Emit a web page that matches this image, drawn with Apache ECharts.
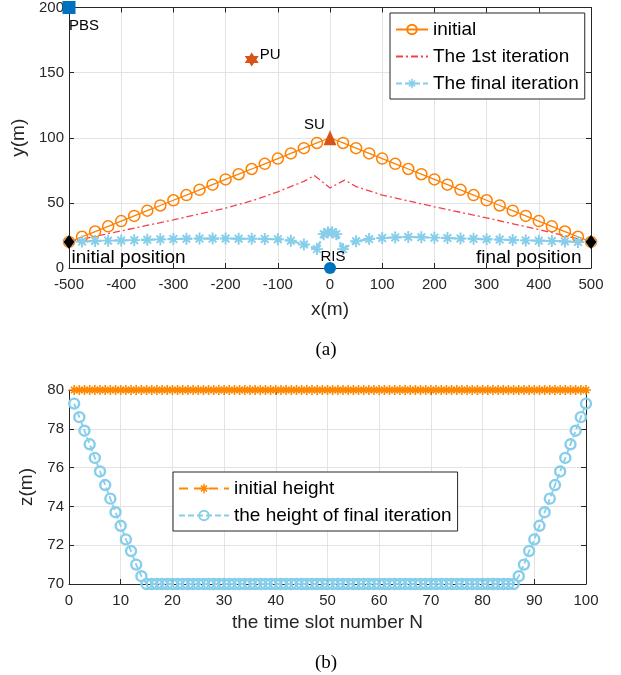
<!DOCTYPE html>
<html>
<head>
<meta charset="utf-8">
<script src="https://cdn.jsdelivr.net/npm/echarts@6/dist/echarts.min.js"></script>
<style>
  html, body { margin: 0; padding: 0; background: #fff; }
  #main { width: 621px; height: 675px; }
</style>
</head>
<body>
<div id="main"></div>
<script>
// ---- (a) trajectories in the x-y plane ----
const initX = [-500,-475,-450,-425,-400,-375,-350,-325,-300,-275,-250,-225,-200,-175,-150,-125,-100,-75,-50,-25,
  0,25,50,75,100,125,150,175,200,225,250,275,300,325,350,375,400,425,450,475,500];
const initY = [20,24,28,32,36,40,44,48,52,56,60,64,68,72,76,80,84,88,92,96,
  100,96,92,88,84,80,76,72,68,64,60,56,52,48,44,40,36,32,28,24,20];

const firstX = [-500,-400,-300,-200,-150,-100,-50,-30,0,28,50,100,200,300,400,500];
const firstY = [20,28.5,37,46,51.5,58.5,66.5,71,61.5,67.5,62.5,56,47,38.5,29.5,20];

const finalX = [-500,-475,-450,-425,-400,-375,-350,-325,-300,-275,-250,-225,-200,-175,-150,-125,-100,-75,-50,-25,
  -12,-4,4,12,25,50,75,100,125,150,175,200,225,250,275,300,325,350,375,400,425,450,475,500];
const finalY = [20,20.3,20.8,21,21.2,21.4,21.7,22,22.2,22.4,22.6,22.6,22.6,22.5,22.4,22.3,22.1,21,18,14.5,
  26,27.5,27.5,26,14.5,20.5,22.2,23,23.5,23.8,23.6,23.3,23,22.7,22.4,22.1,21.8,21.5,21.2,21,20.7,20.4,20,20];

// nodes: [x, y]
const pbsPos = [-500, 200];
const puPos = [-150, 160];
const suPos = [0, 100];
const risPos = [0, 0];
const startPos = [-500, 20];
const endPos = [500, 20];

// ---- (b) height per time slot ----
const slots = [1,2,3,4,5,6,7,8,9,10,11,12,13,14,15,16,17,18,19,20,21,22,23,24,25,26,27,28,29,30,
  31,32,33,34,35,36,37,38,39,40,41,42,43,44,45,46,47,48,49,50,51,52,53,54,55,56,57,58,59,60,
  61,62,63,64,65,66,67,68,69,70,71,72,73,74,75,76,77,78,79,80,81,82,83,84,85,86,87,88,89,90,
  91,92,93,94,95,96,97,98,99,100];
const initHeight = [80,80,80,80,80,80,80,80,80,80,80,80,80,80,80,80,80,80,80,80,80,80,80,80,80,
  80,80,80,80,80,80,80,80,80,80,80,80,80,80,80,80,80,80,80,80,80,80,80,80,80,
  80,80,80,80,80,80,80,80,80,80,80,80,80,80,80,80,80,80,80,80,80,80,80,80,80,
  80,80,80,80,80,80,80,80,80,80,80,80,80,80,80,80,80,80,80,80,80,80,80,80,80];
const finalHeight = [79.3,78.6,77.9,77.2,76.5,75.8,75.1,74.4,73.7,73.0,72.3,71.7,71.0,70.4,
  70,70,70,70,70,70,70,70,70,70,70,70,
  70,70,70,70,70,70,70,70,70,70,70,70,
  70,70,70,70,70,70,70,70,70,70,70,70,
  70,70,70,70,70,70,70,70,70,70,70,70,
  70,70,70,70,70,70,70,70,70,70,70,70,
  70,70,70,70,70,70,70,70,70,70,70,70,
  70.4,71.0,71.7,72.3,73.0,73.7,74.4,75.1,75.8,76.5,77.2,77.9,78.6,79.3];

const zip = (xs, ys) => xs.map((x, i) => [x, ys[i]]);

const ORANGE = '#FF8000';
const RED = '#F5414B';
const SKY = '#87CEEB';
const MBLUE = '#0072BD';
const MRED = '#D95319';
const AX = '#262626';
const FONT = 'Liberation Sans';

const starPath = 'path://M-1.6,-10L1.6,-10L1.6,10L-1.6,10Z M-10,-1.6L10,-1.6L10,1.6L-10,1.6Z ' +
  'M-7.5,-5.2L-5.2,-7.5L7.5,5.2L5.2,7.5Z M5.2,-7.5L7.5,-5.2L-5.2,7.5L-7.5,5.2Z';
const hexPath = 'path://M0,-10L2.885,-5L8.66,-5L5.77,0L8.66,5L2.885,5L0,10L-2.885,5L-8.66,5L-5.77,0L-8.66,-5L-2.885,-5Z';

function xAx(grid, min, max, interval, name, gap) {
  return [{
    gridIndex: grid, type: 'value', min: min, max: max, interval: interval, position: 'bottom',
    name: name, nameLocation: 'middle', nameGap: gap,
    nameTextStyle: { fontSize: 19, color: AX, fontFamily: FONT },
    axisLine: { show: true, onZero: false, lineStyle: { color: AX, width: 1 } },
    axisTick: { show: true, inside: true, length: 5, lineStyle: { color: AX } },
    axisLabel: { fontSize: 15, color: AX, fontFamily: FONT, margin: 9 },
    splitLine: { show: true, lineStyle: { color: '#E3E3E3', width: 1 } }
  }, {
    gridIndex: grid, type: 'value', min: min, max: max, interval: interval, position: 'top',
    axisLine: { show: true, onZero: false, lineStyle: { color: AX, width: 1 } },
    axisTick: { show: true, inside: true, length: 5, lineStyle: { color: AX } },
    axisLabel: { show: false }, splitLine: { show: false }
  }];
}
function yAx(grid, min, max, interval, name, gap) {
  return [{
    gridIndex: grid, type: 'value', min: min, max: max, interval: interval, position: 'left',
    name: name, nameLocation: 'middle', nameGap: gap,
    nameTextStyle: { fontSize: 19, color: AX, fontFamily: FONT },
    axisLine: { show: true, onZero: false, lineStyle: { color: AX, width: 1 } },
    axisTick: { show: true, inside: true, length: 5, lineStyle: { color: AX } },
    axisLabel: { fontSize: 15, color: AX, fontFamily: FONT, margin: 5 },
    splitLine: { show: true, lineStyle: { color: '#E3E3E3', width: 1 } }
  }, {
    gridIndex: grid, type: 'value', min: min, max: max, interval: interval, position: 'right',
    axisLine: { show: true, onZero: false, lineStyle: { color: AX, width: 1 } },
    axisTick: { show: true, inside: true, length: 5, lineStyle: { color: AX } },
    axisLabel: { show: false }, splitLine: { show: false }
  }];
}

function node(name, pos, symbol, size, color, label) {
  return {
    name: name, type: 'scatter', xAxisIndex: 0, yAxisIndex: 0, clip: false, z: 5,
    symbol: symbol, symbolSize: size, itemStyle: { color: color, opacity: 1 },
    label: Object.assign({ show: true, formatter: name, color: '#000', fontFamily: FONT, fontSize: 15 }, label),
    data: [pos]
  };
}

// the SU marker sits on the initial path, so hide that circle
const initData = zip(initX, initY).map(p => (p[0] === suPos[0] && p[1] === suPos[1]) ? { value: p, symbol: 'none' } : p);

const legendText = { fontSize: 19, color: '#000', fontFamily: FONT };
const option = {
  animation: false,
  backgroundColor: '#fff',
  textStyle: { fontFamily: FONT },
  title: [
    { text: '(a)', left: 321, top: 336, textAlign: 'center',
      textStyle: { fontFamily: 'Liberation Serif', fontSize: 19, fontWeight: 'normal', color: '#000' } },
    { text: '(b)', left: 321, top: 649, textAlign: 'center',
      textStyle: { fontFamily: 'Liberation Serif', fontSize: 19, fontWeight: 'normal', color: '#000' } }
  ],
  grid: [
    { left: 69, right: 30, top: 7, height: 261, containLabel: false },
    { left: 69, right: 35, top: 390, height: 194, containLabel: false }
  ],
  xAxis: [].concat(xAx(0, -500, 500, 100, 'x(m)', 32), xAx(1, 0, 100, 10, 'the time slot number N', 29)),
  yAxis: [].concat(yAx(0, 0, 200, 50, 'y(m)', 38), yAx(1, 70, 80, 2, 'z(m)', 23)),
  legend: [{
    data: ['initial',
      { name: 'The 1st iteration', itemStyle: { color: 'rgba(0,0,0,0)', borderColor: 'rgba(0,0,0,0)', borderWidth: 0 } },
      'The final iteration'],
    orient: 'vertical', left: 390, top: 13,
    backgroundColor: '#fff', borderColor: AX, borderWidth: 1, borderRadius: 0,
    padding: [7, 6, 6, 5], itemWidth: 32, itemHeight: 12, itemGap: 8,
    textStyle: legendText
  }, {
    data: ['initial height', 'the height of final iteration'],
    orient: 'vertical', left: 173, top: 472,
    backgroundColor: '#fff', borderColor: AX, borderWidth: 1, borderRadius: 0,
    padding: [7, 6, 6, 5], itemWidth: 50, itemHeight: 12, itemGap: 8,
    textStyle: legendText
  }],
  series: [
    {
      name: 'initial', type: 'line', xAxisIndex: 0, yAxisIndex: 0,
      symbol: 'circle', symbolSize: 11, showAllSymbol: true,
      itemStyle: { color: 'rgba(255,255,255,0)', borderColor: ORANGE, borderWidth: 1.5 },
      lineStyle: { color: ORANGE, width: 1.3 },
      data: initData
    },
    {
      name: 'The 1st iteration', type: 'line', xAxisIndex: 0, yAxisIndex: 0,
      symbol: 'none', itemStyle: { color: RED },
      lineStyle: { color: RED, width: 1.3, type: [7, 3, 2, 3] },
      data: zip(firstX, firstY)
    },
    {
      name: 'The final iteration', type: 'line', xAxisIndex: 0, yAxisIndex: 0,
      symbol: starPath, symbolSize: 12, showAllSymbol: true,
      itemStyle: { color: SKY },
      lineStyle: { color: SKY, width: 2.2, type: [6, 3] },
      data: zip(finalX, finalY)
    },
    node('PBS', pbsPos, 'rect', 13, MBLUE, { position: 'bottom', align: 'left', distance: 4 }),
    node('PU', puPos, hexPath, 14, MRED, { position: 'right', distance: 1, offset: [0, -5] }),
    node('SU', suPos, 'triangle', [13, 15], MRED, { position: [-9, -5], align: 'center', verticalAlign: 'middle' }),
    node('RIS', risPos, 'circle', 12, MBLUE, { position: [9, -5], align: 'center', verticalAlign: 'middle' }),
    node('initial position', startPos, 'diamond', [11, 14], '#000',
      { position: [8, 23], align: 'left', verticalAlign: 'middle', fontSize: 19 }),
    node('final position', endPos, 'diamond', [11, 14], '#000',
      { position: [-4, 23], align: 'right', verticalAlign: 'middle', fontSize: 19 }),
    {
      name: 'initial height', type: 'line', xAxisIndex: 2, yAxisIndex: 2, clip: false,
      symbol: starPath, symbolSize: 10, showAllSymbol: true,
      itemStyle: { color: '#FF8800' },
      lineStyle: { color: '#FF8800', width: 1.4, type: [9, 6] },
      data: zip(slots, initHeight)
    },
    {
      name: 'the height of final iteration', type: 'line', xAxisIndex: 2, yAxisIndex: 2, clip: false,
      symbol: 'circle', symbolSize: 10, showAllSymbol: true,
      itemStyle: { color: 'rgba(255,255,255,0)', borderColor: SKY, borderWidth: 2.4 },
      lineStyle: { color: SKY, width: 1.8, type: [6, 3] },
      data: zip(slots, finalHeight)
    }
  ]
};

const chart = echarts.init(document.getElementById('main'));
chart.setOption(option);
</script>
</body>
</html>
